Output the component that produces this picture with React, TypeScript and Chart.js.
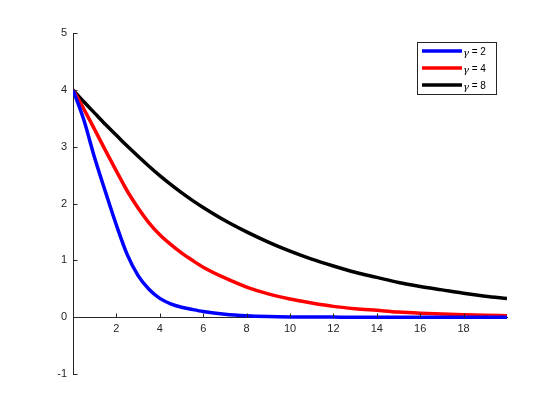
import React, { useEffect, useRef } from "react";
import { Chart, registerables } from "chart.js";

Chart.register(...registerables);

const xValues = [0, 0.5, 1, 1.5, 2, 2.5, 3, 3.5, 4, 4.5, 5, 5.5, 6, 7, 8, 9, 10, 11, 12, 13, 14, 15, 16, 17, 18, 19, 20];
const gamma2 = [4, 3.47, 2.8, 2.2, 1.62, 1.1, 0.73, 0.49, 0.33, 0.235, 0.175, 0.135, 0.1, 0.052, 0.024, 0.01, 0.004, 0.002, 0.001, 0, 0, 0, 0, 0, 0, 0, 0];
const gamma4 = [4, 3.66, 3.3, 2.93, 2.57, 2.22, 1.92, 1.66, 1.45, 1.28, 1.13, 1.0, 0.88, 0.69, 0.53, 0.41, 0.32, 0.25, 0.19, 0.15, 0.12, 0.09, 0.07, 0.055, 0.043, 0.034, 0.027];
const gamma8 = [4, 3.79, 3.59, 3.39, 3.2, 3.01, 2.83, 2.655, 2.49, 2.335, 2.19, 2.055, 1.93, 1.7, 1.5, 1.32, 1.16, 1.02, 0.9, 0.79, 0.7, 0.61, 0.54, 0.48, 0.42, 0.37, 0.33];
const seriesLabels = ["γ = 2", "γ = 4", "γ = 8"];
const seriesColors = ["#0000ff", "#ff0000", "#000000"];
const xTickValues = [2, 4, 6, 8, 10, 12, 14, 16, 18];
const yTickValues = [-1, 0, 1, 2, 3, 4, 5];

const AXIS_COLOR = "#262626";
const FONT = "'Liberation Sans', Arial, Helvetica, sans-serif";

const tickMarksPlugin = {
  id: "tickMarks",
  afterDraw(chart: any) {
    const { ctx, scales } = chart;
    const xs = scales.x;
    const ys = scales.y;
    const y0 = Math.round(ys.getPixelForValue(0)) + 0.5;
    const x0 = Math.round(xs.getPixelForValue(0)) + 0.5;
    ctx.save();
    ctx.strokeStyle = AXIS_COLOR;
    ctx.lineWidth = 1;
    ctx.beginPath();
    xs.ticks.forEach((t: any) => {
      const px = Math.round(xs.getPixelForValue(t.value)) + 0.5;
      ctx.moveTo(px, y0);
      ctx.lineTo(px, y0 - 4);
    });
    ys.ticks.forEach((t: any) => {
      const py = Math.round(ys.getPixelForValue(t.value)) + 0.5;
      ctx.moveTo(x0, py);
      ctx.lineTo(x0 + 4, py);
    });
    ctx.stroke();
    ctx.restore();
  },
};

const legendBoxPlugin = {
  id: "legendBox",
  afterDraw(chart: any) {
    const { ctx, chartArea } = chart;
    const ds = chart.data.datasets;
    const right = chartArea.right - 11;
    const top = chartArea.top + 9;
    const width = 79;
    const rowH = 17;
    const height = 52;
    const left = right - width;
    ctx.save();
    ctx.fillStyle = "#ffffff";
    ctx.fillRect(left, top, width, height);
    ctx.strokeStyle = "#262626";
    ctx.lineWidth = 1;
    ctx.strokeRect(Math.round(left) + 0.5, Math.round(top) + 0.5, width, height);
    ds.forEach((d: any, i: number) => {
      const cy = top + 9 + i * rowH;
      ctx.strokeStyle = d.borderColor;
      ctx.lineWidth = 3.5;
      ctx.beginPath();
      ctx.moveTo(left + 5, cy);
      ctx.lineTo(left + 45, cy);
      ctx.stroke();
      ctx.fillStyle = "#000000";
      ctx.textBaseline = "middle";
      ctx.textAlign = "left";
      const label: string = d.label;
      const g = label.charAt(0);
      const rest = label.slice(1);
      ctx.font = "italic 10px 'DejaVu Serif', serif";
      ctx.fillText(g, left + 46, cy + 2);
      const gw = ctx.measureText(g).width;
      ctx.font = `10px ${FONT}`;
      ctx.fillText(rest, left + 46 + gw, cy + 1);
    });
    ctx.restore();
  },
};

export default function App() {
  const canvasRef = useRef<HTMLCanvasElement | null>(null);

  useEffect(() => {
    const canvas = canvasRef.current;
    if (!canvas) return;
    const datasets = [gamma2, gamma4, gamma8].map((vals, i) => ({
      label: seriesLabels[i],
      data: xValues.map((x, j) => ({ x, y: vals[j] })),
      borderColor: seriesColors[i],
      backgroundColor: seriesColors[i],
      borderWidth: 3.5,
      pointRadius: 0,
      cubicInterpolationMode: "monotone" as const,
      fill: false,
    }));
    const chart = new Chart(canvas, {
      type: "line",
      data: { datasets },
      options: {
        animation: false,
        responsive: false,
        devicePixelRatio: 1,
        layout: { padding: { left: 33, right: 53, top: 33, bottom: 46 } },
        plugins: { legend: { display: false }, tooltip: { enabled: false } },
        scales: {
          x: {
            type: "linear",
            min: 0,
            max: 20,
            position: { y: 0 } as any,
            afterBuildTicks: (scale: any) => {
              scale.ticks = xTickValues.map((v) => ({ value: v }));
            },
            grid: { display: false, drawTicks: false },
            border: { display: true, color: AXIS_COLOR, width: 1 },
            ticks: {
              color: AXIS_COLOR,
              font: { family: FONT, size: 11 },
              padding: 5,
              maxRotation: 0,
              autoSkip: false,
            },
          },
          y: {
            type: "linear",
            min: -1,
            max: 5,
            position: "left",
            afterBuildTicks: (scale: any) => {
              scale.ticks = yTickValues.map((v) => ({ value: v }));
            },
            afterFit: (scale: any) => {
              scale.width = 40;
            },
            grid: { display: false, drawTicks: false },
            border: { display: true, color: AXIS_COLOR, width: 1 },
            ticks: {
              color: AXIS_COLOR,
              font: { family: FONT, size: 11 },
              padding: 6,
              autoSkip: false,
            },
          },
        },
      },
      plugins: [tickMarksPlugin, legendBoxPlugin],
    });
    return () => chart.destroy();
  }, []);

  return (
    <div style={{ position: "absolute", left: 0, top: 0, width: 560, height: 420, background: "#ffffff" }}>
      <canvas ref={canvasRef} width={560} height={420} style={{ width: 560, height: 420 }} />
    </div>
  );
}
